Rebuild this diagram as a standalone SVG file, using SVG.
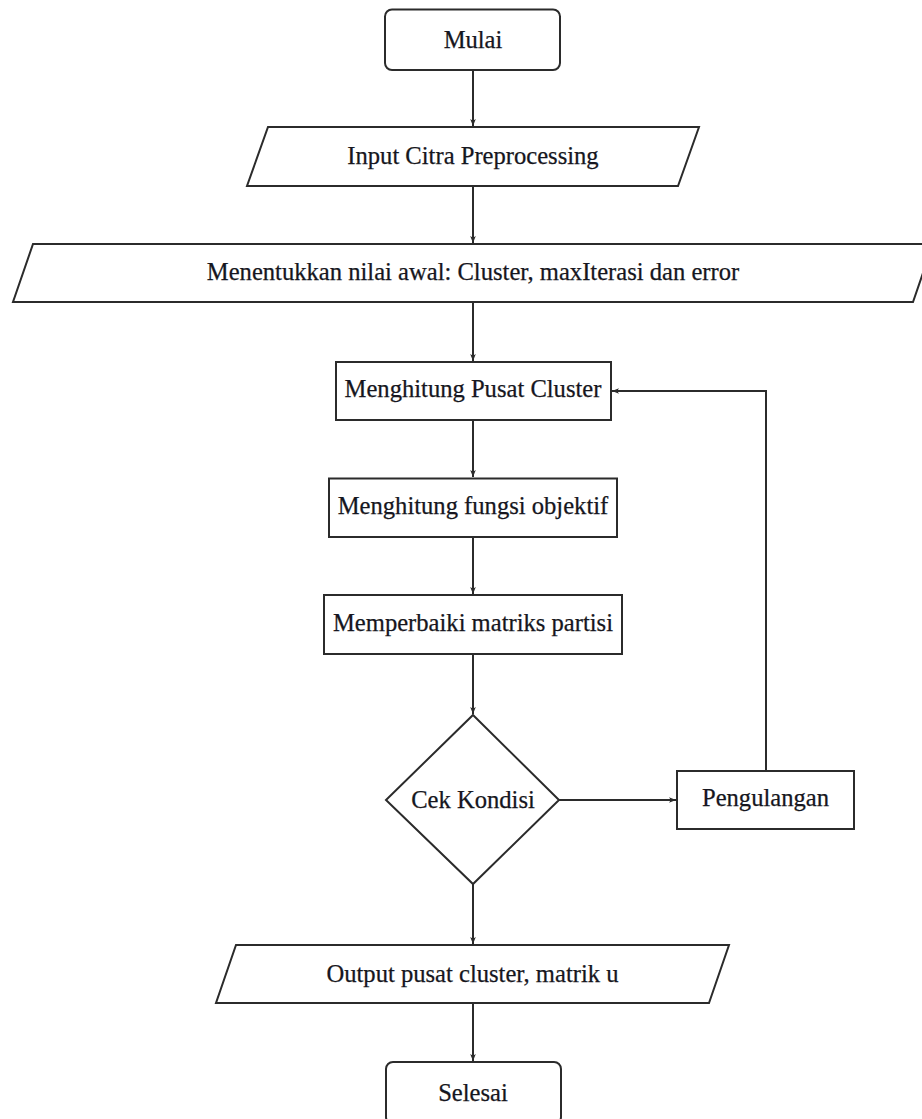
<svg xmlns="http://www.w3.org/2000/svg" width="922" height="1119" viewBox="0 0 922 1119">
<style>
.s{fill:#fff;stroke:#2b2b2b;stroke-width:2}
.t{font-family:"Liberation Serif","Times New Roman",serif;font-size:24.6px;fill:#161620;stroke:#161620;stroke-width:0.25;text-anchor:middle}
.c{fill:none;stroke:#2b2b2b;stroke-width:2}
</style>
<defs>
<marker id="a" viewBox="0 0 10 10" refX="10" refY="5" markerWidth="7" markerHeight="7" markerUnits="userSpaceOnUse" orient="auto">
<path d="M0,1 L10,5 L0,9 L2.5,5 Z" fill="#2b2b2b"/>
</marker>
</defs>
<rect width="922" height="1119" fill="#fff"/>
<g id="connectors">
<line class="c" x1="473" y1="70" x2="473" y2="126" marker-end="url(#a)"/>
<line class="c" x1="473" y1="186" x2="473" y2="243" marker-end="url(#a)"/>
<line class="c" x1="473" y1="302" x2="473" y2="361" marker-end="url(#a)"/>
<line class="c" x1="473" y1="420" x2="473" y2="477" marker-end="url(#a)"/>
<line class="c" x1="473" y1="537" x2="473" y2="594" marker-end="url(#a)"/>
<line class="c" x1="473" y1="654" x2="473" y2="714" marker-end="url(#a)"/>
<line class="c" x1="473" y1="884" x2="473" y2="944" marker-end="url(#a)"/>
<line class="c" x1="473" y1="1003" x2="473" y2="1061" marker-end="url(#a)"/>
<line class="c" x1="559" y1="800" x2="676" y2="800" marker-end="url(#a)"/>
<polyline class="c" points="766,771 766,391 612,391" marker-end="url(#a)"/>
</g>
<g id="mulai">
<rect class="s" x="385" y="9.5" width="175" height="60.5" rx="7"/>
<text class="t" x="473" y="48">Mulai</text>
</g>
<g id="input">
<polygon class="s" points="268,127 699,127 678,186 247,186"/>
<text class="t" x="473" y="164">Input Citra Preprocessing</text>
</g>
<g id="init">
<polygon class="s" points="33,244 933,244 913,302 13,302"/>
<text class="t" x="473" y="280">Menentukkan nilai awal: Cluster, maxIterasi dan error</text>
</g>
<g id="pusat">
<rect class="s" x="336" y="362" width="275" height="58"/>
<text class="t" x="473" y="397">Menghitung Pusat Cluster</text>
</g>
<g id="fungsi">
<rect class="s" x="329" y="478.5" width="288" height="58.5"/>
<text class="t" x="473" y="514">Menghitung fungsi objektif</text>
</g>
<g id="matriks">
<rect class="s" x="324" y="595" width="298" height="59"/>
<text class="t" x="473" y="631">Memperbaiki matriks partisi</text>
</g>
<g id="cek">
<polygon class="s" points="473,715 559,800 473,884 386,800"/>
<text class="t" x="473" y="808">Cek Kondisi</text>
</g>
<g id="pengulangan">
<rect class="s" x="677" y="771" width="177" height="58"/>
<text class="t" x="765.5" y="806">Pengulangan</text>
</g>
<g id="output">
<polygon class="s" points="236,945 729,945 709,1003 216,1003"/>
<text class="t" x="472.5" y="982">Output pusat cluster, matrik u</text>
</g>
<g id="selesai">
<rect class="s" x="386" y="1062" width="175" height="62" rx="7"/>
<text class="t" x="473" y="1101">Selesai</text>
</g>
</svg>
